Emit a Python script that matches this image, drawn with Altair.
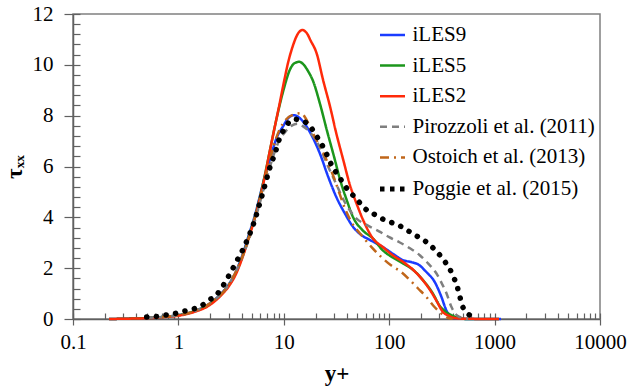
import altair as alt
import pandas as pd

series_names = ["iLES9", "iLES5", "iLES2", "Pirozzoli et al. (2011)",
                "Ostoich et al. (2013)", "Poggie et al. (2015)"]
series_colors = ["#1a3cff", "#1c961c", "#ff2a0a", "#7f7f7f", "#c0661a", "#000000"]
series_dashes = [[1, 0], [1, 0], [1, 0], [7, 5], [9, 5, 2, 5], [4.5, 5.5]]
series_widths = [2.5, 2.5, 2.5, 2.5, 2.5, 5]

x_major = [0.1, 1, 10, 100, 1000, 10000]
x_minor = [m * d for d in [0.1, 1, 10, 100, 1000] for m in range(1, 10)] + [10000]
y_major = [0, 2, 4, 6, 8, 10, 12]
y_minor = [round(i * 0.4, 1) for i in range(31)]

iles9_x = [0.22, 0.3, 0.5, 0.7, 1.0, 1.4, 2.0, 2.5, 3.0, 3.5, 4.0, 4.7, 5.3, 5.9, 6.6, 7.4, 8.5, 9.9,
           11.0, 12.5, 13.5, 15.0, 17.7, 22.0, 26.4, 31.5, 38.0, 45.5, 54.5, 65.0, 87.0, 108.0,
           136.0, 162.0, 188.0, 225.0, 270.0, 313.0, 350.0, 390.0, 450.0, 600.0, 1150.0]
iles9_y = [0, 0.01, 0.04, 0.08, 0.15, 0.3, 0.62, 0.97, 1.35, 1.85, 2.45, 3.36, 4.05, 4.8, 5.6, 6.3,
           7.1, 7.6, 7.9, 8.02, 7.97, 7.8, 7.35, 6.51, 5.59, 4.8, 4.15, 3.62, 3.3, 3.12, 2.83, 2.57,
           2.31, 2.24, 2.15, 1.85, 1.46, 0.87, 0.32, 0.1, 0.02, 0.0, 0.0]

iles5_x = [0.22, 0.3, 0.5, 0.7, 1.0, 1.4, 2.0, 2.5, 3.0, 3.5, 4.0, 4.7, 5.3, 5.9, 6.6, 7.4, 8.2, 9.0,
           10.0, 11.4, 12.5, 14.0, 15.5, 17.0, 19.0, 22.0, 25.6, 30.0, 34.3, 39.6, 45.5, 56.0, 70.0,
           87.0, 108.0, 136.0, 170.0, 210.0, 260.0, 300.0, 350.0, 400.0, 460.0, 550.0, 1100.0]
iles5_y = [0, 0.01, 0.04, 0.08, 0.15, 0.3, 0.6, 0.95, 1.32, 1.8, 2.4, 3.3, 4.0, 4.75, 5.65, 6.65,
           7.55, 8.3, 9.05, 9.8, 10.05, 10.12, 10.0, 9.75, 9.35, 8.48, 7.43, 6.38, 5.46, 4.67, 4.0,
           3.49, 3.17, 2.7, 2.42, 2.18, 1.92, 1.52, 1.0, 0.53, 0.26, 0.13, 0.03, 0.0, 0.0]

iles2_x = [0.22, 0.3, 0.5, 0.7, 1.0, 1.4, 2.0, 2.5, 3.0, 3.5, 4.0, 4.7, 5.3, 5.9, 6.6, 7.4, 8.2, 9.0,
           10.0, 11.0, 12.2, 13.5, 15.0, 16.5, 18.0, 20.5, 23.6, 27.5, 31.5, 36.7, 42.0, 49.0, 58.5,
           70.0, 87.0, 108.0, 136.0, 170.0, 210.0, 245.0, 285.0, 320.0, 370.0, 430.0, 500.0, 1100.0]
iles2_y = [0, 0.01, 0.03, 0.07, 0.13, 0.27, 0.56, 0.9, 1.28, 1.75, 2.35, 3.25, 3.95, 4.7, 5.6, 6.65,
           7.55, 8.35, 9.3, 10.1, 10.75, 11.2, 11.37, 11.25, 10.95, 10.45, 9.4, 8.35, 7.3, 6.25, 5.33,
           4.54, 3.76, 3.17, 2.83, 2.51, 2.24, 1.92, 1.51, 1.13, 0.67, 0.3, 0.12, 0.03, 0.01, 0.0]

pirozzoli_x = [0.5, 0.7, 1.0, 1.4, 2.0, 3.0, 4.0, 5.0, 6.0, 7.0, 8.0, 9.0, 10.5, 12.0, 13.5, 15.0,
               17.7, 22.0, 26.0, 31.5, 36.7, 42.0, 49.0, 58.0, 68.0, 80.0, 100.0, 125.0, 155.0,
               195.0, 235.0, 280.0, 320.0, 350.0, 390.0, 440.0, 500.0, 560.0]
pirozzoli_y = [0.04, 0.08, 0.15, 0.3, 0.62, 1.35, 2.4, 3.5, 4.65, 5.65, 6.45, 7.0, 7.4, 7.62, 7.68,
               7.6, 7.35, 6.75, 6.05, 5.3, 4.7, 4.3, 3.95, 3.75, 3.6, 3.45, 3.22, 3.02, 2.8, 2.51,
               2.18, 1.8, 1.35, 1.0, 0.47, 0.14, 0.04, 0.01]

ostoich_x = [0.7, 1.0, 1.4, 2.0, 3.0, 4.0, 5.0, 6.0, 7.0, 8.0, 9.0, 10.5, 12.5, 14.5, 16.0, 18.0,
             20.0, 22.7, 26.4, 30.3, 34.0, 38.0, 44.0, 54.5, 68.0, 84.0, 104.0, 130.0, 158.0, 188.0,
             225.0, 260.0, 300.0, 330.0, 360.0, 400.0]
ostoich_y = [0.08, 0.15, 0.3, 0.62, 1.35, 2.4, 3.6, 4.8, 5.9, 6.8, 7.4, 7.85, 8.05, 8.1, 7.92, 7.5,
             7.1, 6.7, 6.1, 5.5, 4.9, 4.35, 3.8, 3.3, 2.83, 2.44, 2.11, 1.85, 1.52, 1.2, 0.87, 0.54,
             0.28, 0.14, 0.05, 0.01]

poggie_x = [0.5, 0.61, 0.75, 0.91, 1.11, 1.37, 1.64, 1.95, 2.31, 2.6, 3.1, 3.6, 4.2, 4.7, 5.3, 5.85,
            6.6, 7.4, 8.3, 9.1, 10.2, 11.3, 12.7, 14.1, 15.8, 17.9, 20.2, 22.7, 25.8, 29.0, 32.8,
            36.7, 40.8, 47.0, 53.5, 61.5, 75.5, 89.0, 106.0, 128.0, 154.0, 183.0, 220.0, 260.0,
            307.0, 340.0, 374.0, 408.0, 440.0, 470.0, 500.0, 557.0, 622.0, 680.0]
poggie_y = [0.08, 0.1, 0.15, 0.21, 0.3, 0.39, 0.51, 0.74, 0.96, 1.25, 1.8, 2.3, 2.83, 3.3, 3.89, 4.48,
            5.24, 5.98, 6.55, 7.1, 7.5, 7.76, 7.86, 7.83, 7.76, 7.56, 7.23, 6.9, 6.44, 5.98, 5.66,
            5.33, 5.07, 4.8, 4.54, 4.28, 4.08, 3.91, 3.79, 3.65, 3.45, 3.26, 3.06, 2.8, 2.48, 2.24,
            1.98, 1.65, 1.3, 0.85, 0.47, 0.21, 0.08, 0.02]

rows = []
for name, xs, ys in [(series_names[0], iles9_x, iles9_y),
                     (series_names[1], iles5_x, iles5_y),
                     (series_names[2], iles2_x, iles2_y),
                     (series_names[3], pirozzoli_x, pirozzoli_y),
                     (series_names[4], ostoich_x, ostoich_y)]:
    for i, (xv, yv) in enumerate(zip(xs, ys)):
        rows.append({"series": name, "x": xv, "y": yv, "idx": i})
df_lines = pd.DataFrame(rows)
df_pog = pd.DataFrame({"series": series_names[5], "x": poggie_x, "y": poggie_y,
                       "idx": list(range(len(poggie_x)))})

W, H = 527, 305
FONT = "Liberation Serif"
xscale = alt.Scale(type="log", domain=[0.1, 10000], nice=False)
yscale = alt.Scale(domain=[0, 12], nice=False, zero=False)

legend = alt.Legend(title=None, orient="none", legendX=304.5, legendY=7,
                    labelFont=FONT, labelFontSize=21, labelColor="black", labelLimit=400,
                    symbolType="stroke", symbolSize=625, labelOffset=5, rowPadding=6.6,
                    padding=0)

lines = alt.Chart(df_lines).mark_line(interpolate="monotone", strokeCap="butt").encode(
    x=alt.X("x:Q", scale=xscale,
            axis=alt.Axis(values=x_major, labelExpr="format(datum.value, '~g')",
                          tickSize=6, labelPadding=6, title="y+", titlePadding=10,
                          orient="bottom")),
    y=alt.Y("y:Q", scale=yscale,
            axis=alt.Axis(values=y_major, tickSize=9, labelPadding=11, title="τₓₓ",
                          titlePadding=6, orient="left")),
    color=alt.Color("series:N", scale=alt.Scale(domain=series_names, range=series_colors),
                    legend=legend),
    strokeDash=alt.StrokeDash("series:N",
                              scale=alt.Scale(domain=series_names, range=series_dashes),
                              legend=legend),
    strokeWidth=alt.StrokeWidth("series:N",
                                scale=alt.Scale(type="ordinal", domain=series_names,
                                                range=series_widths),
                                legend=legend),
    order="idx:Q",
)

dots = alt.Chart(df_pog).mark_line(interpolate="monotone", color="black", strokeWidth=5.5,
                                   strokeCap="round", strokeDash=[0.1, 9.6]).encode(
    x=alt.X("x:Q", scale=xscale,
            axis=alt.Axis(values=x_minor, orient="top", offset=-H, tickSize=6, labels=False,
                          domain=False, title=None)),
    y=alt.Y("y:Q", scale=yscale,
            axis=alt.Axis(values=y_minor, orient="right", offset=-W, tickSize=7, labels=False,
                          domain=False, title=None)),
    order="idx:Q",
)

chart = alt.layer(lines, dots).resolve_axis(x="independent", y="independent").properties(
    width=W, height=H,
    autosize=alt.AutoSizeParams(type="none"),
    padding={"left": 73, "top": 14, "right": 31, "bottom": 68},
    background="white",
).configure_view(stroke="#808080", strokeWidth=1.5).configure_axis(
    grid=False, domainColor="#606060", domainWidth=1.5, tickColor="#606060", tickWidth=1.2,
    labelFont=FONT, labelFontSize=21, labelColor="black", labelFlush=False,
    titleFont=FONT, titleFontSize=23, titleFontWeight="bold", titleColor="black",
)

chart.save("out.html", embed_options={"renderer": "svg", "actions": False})
